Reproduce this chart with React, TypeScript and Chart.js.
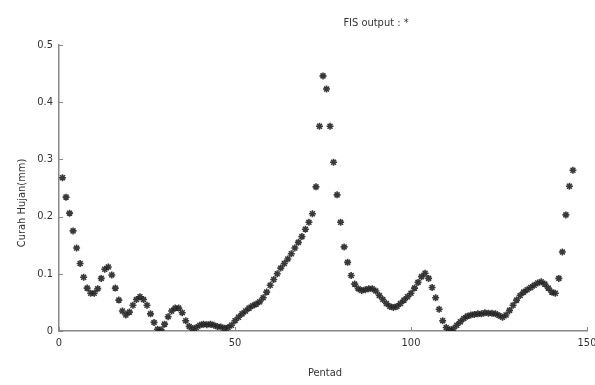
import React, { useEffect, useRef } from "react";
import { Chart, registerables } from "chart.js";

Chart.register(...registerables);

const rainfall: number[] = [
  0.268, 0.234, 0.206, 0.175, 0.145, 0.118, 0.094, 0.075, 0.066, 0.066,
  0.074, 0.092, 0.108, 0.112, 0.098, 0.075, 0.054, 0.035, 0.028, 0.033,
  0.045, 0.055, 0.060, 0.055, 0.045, 0.030, 0.015, 0.003, 0.002, 0.012,
  0.025, 0.035, 0.040, 0.040, 0.032, 0.018, 0.008, 0.004, 0.006, 0.010,
  0.012, 0.011, 0.012, 0.010, 0.008, 0.007, 0.005, 0.006, 0.010, 0.018,
  0.024, 0.030, 0.035, 0.040, 0.044, 0.047, 0.051, 0.058, 0.068, 0.080,
  0.090, 0.100, 0.110, 0.118, 0.126, 0.135, 0.145, 0.155, 0.165, 0.178,
  0.190, 0.205, 0.252, 0.358, 0.446, 0.423, 0.358, 0.295, 0.238, 0.190,
  0.147, 0.120, 0.097, 0.082, 0.074, 0.071, 0.072, 0.074, 0.074, 0.070,
  0.062, 0.055, 0.048, 0.043, 0.041, 0.043, 0.048, 0.054, 0.060, 0.066,
  0.075, 0.085, 0.095, 0.101, 0.092, 0.076, 0.058, 0.038, 0.018, 0.006,
  0.002, 0.004, 0.010, 0.016, 0.022, 0.026, 0.028, 0.029, 0.030, 0.030,
  0.032, 0.031, 0.031, 0.030, 0.027, 0.024, 0.028, 0.036, 0.045, 0.054,
  0.062, 0.068, 0.072, 0.076, 0.080, 0.084, 0.086, 0.082, 0.075, 0.068,
  0.066, 0.092, 0.138, 0.203, 0.253, 0.281,
];
const pentad: number[] = rainfall.map((_, i) => i + 1);

const xTicks: number[] = [0, 50, 100, 150];
const yTicks: number[] = [0, 0.1, 0.2, 0.3, 0.4, 0.5];

const titleText = "FIS output : *";
const xTitle = "Pentad";
const yTitle = "Curah Hujan(mm)";

const FONT = "'Liberation Sans Narrow', 'DejaVu Sans Condensed', 'Liberation Sans', sans-serif";

const decorPlugin = {
  id: "decor",
  afterDraw(chart: any) {
    const { ctx, chartArea, scales } = chart;
    const xs = scales.x;
    const ys = scales.y;
    ctx.save();
    ctx.strokeStyle = "#888";
    ctx.lineWidth = 1;
    for (const v of yTicks) {
      const py = Math.round(ys.getPixelForValue(v)) + 0.5;
      ctx.beginPath();
      ctx.moveTo(chartArea.left, py);
      ctx.lineTo(chartArea.left + 4, py);
      ctx.stroke();
    }
    for (const v of xTicks) {
      const px = Math.round(xs.getPixelForValue(v)) + 0.5;
      ctx.beginPath();
      ctx.moveTo(px, chartArea.bottom);
      ctx.lineTo(px, chartArea.bottom - 4);
      ctx.stroke();
    }
    ctx.fillStyle = "#333";
    ctx.font = `11px ${FONT}`;
    ctx.textAlign = "center";
    ctx.textBaseline = "middle";
    ctx.fillText(titleText, 376, 23);
    ctx.fillText(xTitle, (chartArea.left + chartArea.right) / 2 + 2, 373);
    ctx.translate(22, 203);
    ctx.rotate(-Math.PI / 2);
    ctx.fillText(yTitle, 0, 0);
    ctx.restore();
  },
};

export default function App() {
  const ref = useRef<HTMLCanvasElement>(null);
  useEffect(() => {
    if (!ref.current) return;
    const chart = new Chart(ref.current, {
      type: "scatter",
      data: {
        datasets: [
          {
            data: pentad.map((p, i) => ({ x: p, y: rainfall[i] })),
            pointStyle: "star",
            radius: 3.5,
            borderWidth: 1.6,
            borderColor: "rgba(35,35,35,0.9)",
            backgroundColor: "rgba(35,35,35,0.9)",
            showLine: false,
          },
        ],
      },
      options: {
        responsive: false,
        animation: false,
        layout: { padding: { top: 45, right: 8, left: 0, bottom: 0 } },
        plugins: {
          legend: { display: false },
          tooltip: { enabled: false },
          title: { display: false },
        },
        scales: {
          x: {
            type: "linear",
            min: 0,
            max: 150,
            afterFit: (s: any) => {
              s.height = 54;
              s.paddingLeft = 0;
              s.paddingRight = 0;
            },
            afterBuildTicks: (s: any) => {
              s.ticks = xTicks.map((v) => ({ value: v }));
            },
            grid: { display: false, drawTicks: false },
            border: { display: true, color: "#888", width: 1.5 },
            ticks: {
              color: "#333",
              font: { family: FONT, size: 11 },
              padding: 6,
              maxRotation: 0,
            },
          },
          y: {
            type: "linear",
            min: 0,
            max: 0.5,
            afterFit: (s: any) => {
              s.width = 59;
              s.paddingTop = 0;
              s.paddingBottom = 0;
            },
            afterBuildTicks: (s: any) => {
              s.ticks = yTicks.map((v) => ({ value: v }));
            },
            grid: { display: false, drawTicks: false },
            border: { display: true, color: "#888", width: 1.5 },
            ticks: {
              color: "#333",
              font: { family: FONT, size: 11 },
              padding: 6,
            },
          },
        },
      },
      plugins: [decorPlugin],
    });
    return () => chart.destroy();
  }, []);
  return (
    <div style={{ position: "absolute", left: 0, top: 0, width: 595, height: 385, background: "#fff" }}>
      <canvas ref={ref} width={595} height={385} style={{ display: "block" }} />
    </div>
  );
}
